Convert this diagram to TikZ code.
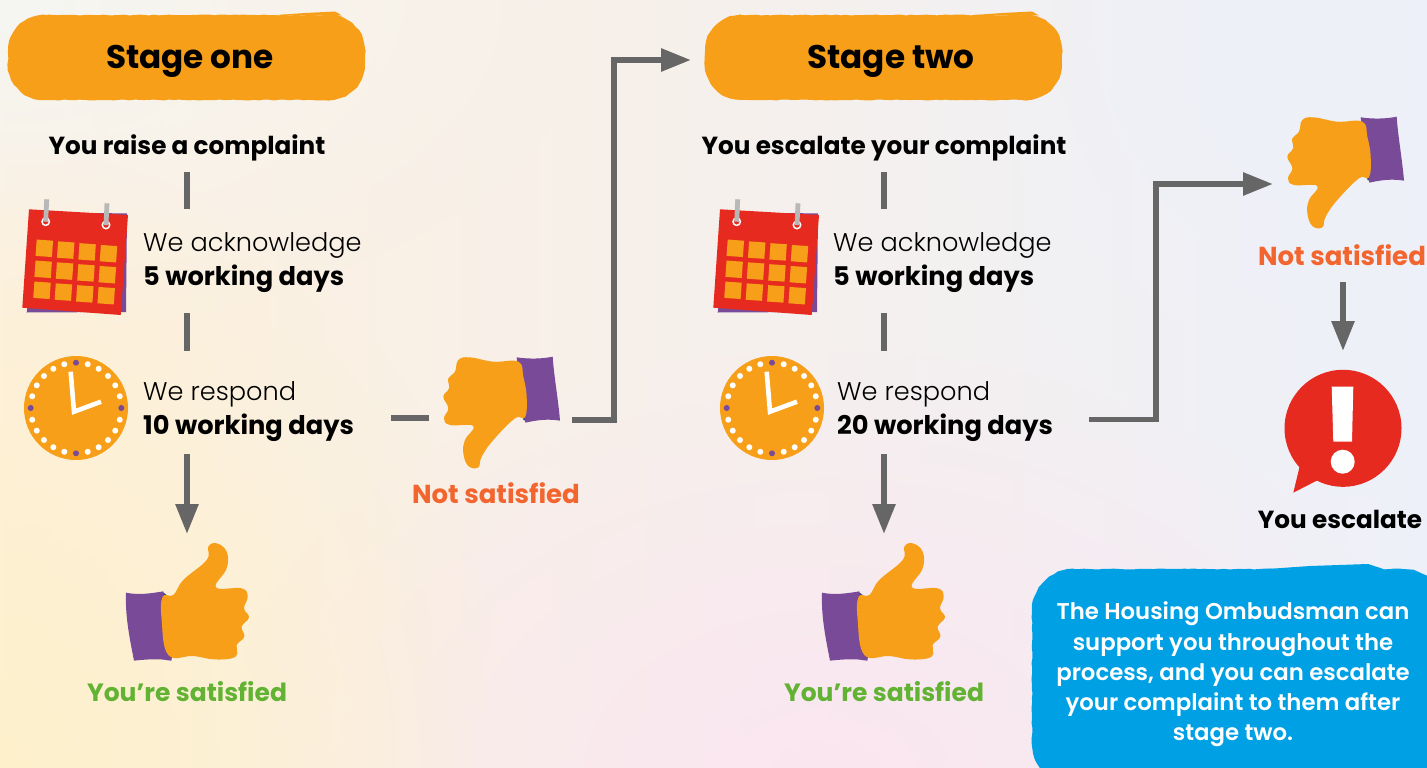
\documentclass[tikz,border=0pt]{standalone}
\usepackage{fontspec}
\setmainfont{Poppins}[UprightFont=* Regular,BoldFont=* Bold]
\newfontfamily\plight{Poppins}[UprightFont=* Light]
\newfontfamily\psemi{Poppins}[UprightFont=* SemiBold]
\usetikzlibrary{arrows.meta,decorations.pathmorphing,fadings,calc}
\tikzfading[name=softout,inner color=transparent!0,outer color=transparent!100]
\definecolor{orangeb}{HTML}{F79F18}
\definecolor{purp}{HTML}{784A98}
\definecolor{navyb}{HTML}{2F3C8C}
\definecolor{redb}{HTML}{E62A20}
\definecolor{conn}{HTML}{666666}
\definecolor{notsat}{HTML}{F2652E}
\definecolor{sat}{HTML}{62B233}
\definecolor{blueb}{HTML}{00A0E4}
\definecolor{bga}{HTML}{FEF1CB}
\definecolor{bgb}{HTML}{FDF0F2}
\definecolor{bgc}{HTML}{EEF0F9}
\definecolor{bgd}{HTML}{F5F6F3}
\definecolor{bge}{HTML}{FBE6F0}
\tikzset{
  link/.style={draw=conn,line width=5.8pt,line join=miter},
  arrowlink/.style={link,-{Triangle[length=30pt,width=22pt]}},
  stagelabel/.style={font=\fontsize{32.7}{36}\selectfont\bfseries,text=black,anchor=base},
  headlabel/.style={font=\fontsize{24.7}{30}\selectfont\bfseries,text=black,anchor=base},
  lightlabel/.style={font=\fontsize{25.6}{30}\selectfont\plight,text=black,anchor=base west,inner sep=0pt},
  boldlabel/.style={font=\fontsize{25.7}{30}\selectfont\bfseries,text=black,anchor=base west,inner sep=0pt},
  notlabel/.style={font=\fontsize{26}{30}\selectfont\bfseries,text=notsat,anchor=base},
  satlabel/.style={font=\fontsize{25}{30}\selectfont\bfseries,text=sat,anchor=base},
  noteblock/.style={font=\fontsize{22.8}{30.3}\selectfont\psemi,text=white,align=center,anchor=center},
  rough/.style={decorate,decoration={random steps,segment length=5pt,amplitude=0.5pt}},
}
\newcommand{\roughbox}[6]{%
  \fill[#6,rough] ({#1+#5},#2) -- ({#3-#5},#2)
    .. controls ({#3-0.45*#5},#2) and (#3,{#2+0.45*#5}) .. (#3,{#2+#5})
    -- (#3,{#4-#5})
    .. controls (#3,{#4-0.45*#5}) and ({#3-0.45*#5},#4) .. ({#3-#5},#4)
    -- ({#1+#5},#4)
    .. controls ({#1+0.45*#5},#4) and (#1,{#4-0.45*#5}) .. (#1,{#4-#5})
    -- (#1,{#2+#5})
    .. controls (#1,{#2+0.45*#5}) and ({#1+0.45*#5},#2) .. ({#1+#5},#2) -- cycle;}
\newcommand{\calicon}[1]{%
  \begin{scope}[shift={(#1,0)}]
    \fill[purp] (40,213) -- (127,213.3) -- (126,312) -- (26.7,312.5) -- cycle;
    \fill[redb] (29,209.3) -- (128,215) -- (120.7,315) -- (22.3,307.7) -- cycle;
    \foreach \r in {0,1,2}{\foreach \c in {0,1,2,3}{
      \pgfmathsetmacro{\cx}{44.3+21.4*\c-1.15*\r}
      \pgfmathsetmacro{\cy}{248.3+21*\r+1.8*\c}
      \fill[orangeb] (\cx-7.6,\cy-8.75) -- (\cx+8.75,\cy-7.6) -- (\cx+7.6,\cy+8.75) -- (\cx-8.75,\cy+7.6) -- cycle;
    }}
    \draw[white,line width=1.5pt,fill=redb] (45.7,221.7) circle (3.7);
    \draw[white,line width=1.5pt,fill=redb] (106,225) circle (3.7);
    \draw[black!28,line width=4.8pt] (46.7,199.3) -- (45.7,221.7);
    \draw[black!28,line width=4.8pt] (107,203.3) -- (106,225);
  \end{scope}}
\newcommand{\clockicon}[1]{%
  \begin{scope}[shift={(#1,0)}]
    \fill[orangeb] (76,408) circle (52);
    \foreach \a in {15,30,45,60,75,105,120,135,150,165,195,210,225,240,255,285,300,315,330,345}
      \fill[white] ({76+45.3*cos(\a)},{408+45.3*sin(\a)}) circle (3);
    \foreach \a in {0,90,180,270}
      \fill[purp] ({76+45.3*cos(\a)},{408+45.3*sin(\a)}) circle (3);
    \draw[white,line width=4.6pt,line join=miter] (70.7,371.7) -- (74,411.7) -- (101,401.7);
  \end{scope}}
\newcommand{\thumbdown}[2]{%
  \begin{scope}[shift={(#1,#2)},scale=1/3]
    \fill[navyb] (412,55) -- (430,55) -- (450,245) -- (430,240) -- cycle;
    \fill[purp] (410,52) .. controls (450,58) and (490,56) .. (518,50)
      .. controls (522,110) and (535,180) .. (540,242)
      .. controls (505,236) and (470,240) .. (436,248) -- (420,150) -- cycle;
    \fill[orangeb] plot[smooth cycle,tension=0.7] coordinates {
      (415,65) (340,65) (270,52) (235,60) (225,95) (205,115) (207,145) (190,170)
      (205,205) (192,235) (210,255) (280,258) (255,300) (250,340) (265,378)
      (295,382) (305,350) (340,300) (405,235) (435,232) (440,170) (430,110)};
  \end{scope}}
\newcommand{\thumbup}[1]{%
  \begin{scope}[shift={(#1,530)},scale=1/3]
    \fill[navyb] (188,186) -- (200,195) -- (216,378) -- (214,390) -- (200,390) -- cycle;
    \fill[purp] (78,188) .. controls (115,196) and (155,190) .. (190,184)
      -- (200,280) -- (214,392)
      .. controls (175,385) and (140,388) .. (102,392)
      .. controls (90,330) and (75,260) .. (78,188) -- cycle;
    \fill[orangeb] plot[smooth cycle,tension=0.7] coordinates {
      (188,200) (220,195) (250,150) (320,90) (325,50) (350,40) (380,65) (380,115)
      (348,172) (425,175) (443,200) (432,235) (447,262) (425,290) (433,320)
      (410,345) (412,370) (395,385) (340,388) (280,378) (205,375) (185,270)};
  \end{scope}}
\begin{document}
\begin{tikzpicture}[x=1pt,y=-1pt]
\pgfmathsetseed{4242}
\useasboundingbox (0,0) rectangle (1427,768);
\begin{scope}
\clip (0,0) rectangle (1427,768);
\shade[left color=bgb!50!bga,middle color=bgb,right color=bgc] (0,0) rectangle (1427,768);
\fill[bgd,path fading=softout] (0,0) ellipse (600 and 330);
\fill[bgc,path fading=softout] (1427,0) ellipse (500 and 500);
\fill[bge,path fading=softout] (830,780) ellipse (620 and 430);
\fill[bga,path fading=softout] (0,768) ellipse (520 and 620);
\roughbox{8}{15}{365}{100}{36}{orangeb}
\roughbox{705}{15}{1062}{100}{36}{orangeb}
\fill[orangeb] (270,15.5) -- (305,13) -- (335,11.5) -- (342,15.5) -- cycle;
\fill[orangeb] (967,15.5) -- (1002,13) -- (1032,11.5) -- (1039,15.5) -- cycle;
\roughbox{1032}{569}{1445}{785}{42}{blueb}
\fill[blueb] (1260,569.5) -- (1310,566) -- (1368,564) -- (1385,569.5) -- cycle;
\end{scope}

\node[stagelabel] (stageone) at (190,69) {Stage one};
\node[stagelabel] (stagetwo) at (891,69) {Stage two};
\node[headlabel] (raise) at (187,154) {You raise a complaint};
\node[headlabel] (escalatec) at (884,154) {You escalate your complaint};

\calicon{0}
\calicon{691}
\clockicon{0}
\clockicon{696}

\node[lightlabel] (ack1) at (143,251.7) {We acknowledge};
\node[boldlabel] (days1) at (143,285) {5 working days};
\node[lightlabel] (resp1) at (143,400) {We respond};
\node[boldlabel] (wd1) at (143,434.3) {10 working days};
\node[lightlabel] (ack2) at (833,251.7) {We acknowledge};
\node[boldlabel] (days2) at (833,285) {5 working days};
\node[lightlabel] (resp2) at (837,400) {We respond};
\node[boldlabel] (wd2) at (837,434.3) {20 working days};

\thumbdown{380}{340}
\thumbdown{1224}{100}
\thumbup{100}
\thumbup{796}

\node[notlabel] (not1) at (496,503) {Not satisfied};
\node[notlabel] (not2) at (1342,265) {Not satisfied};
\node[satlabel] (sat1) at (187,701.5) {You’re satisfied};
\node[satlabel] (sat2) at (884,701.5) {You’re satisfied};

% exclamation bubble
\fill[redb] (1343,428.3) circle (58.5);
\fill[redb] (1300,465) -- (1293.3,492.7) -- (1318,480) -- cycle;
\fill[white] (1331.7,386.7) -- (1353.3,386.7) -- (1352,441.7) -- (1333.3,441.7) -- cycle;
\fill[white] (1342.7,461.7) circle (12);
\node[headlabel] (youesc) at (1340,528.3) {You escalate};

\node[noteblock] (note) at (1233,674.5) {The Housing Ombudsman can\\support you throughout the\\process, and you can escalate\\your complaint to them after\\stage two.};

% connector end points
\coordinate (a1) at (187,172); \coordinate (a2) at (187,209);
\coordinate (a3) at (187,313); \coordinate (a4) at (187,351);
\coordinate (a5) at (187,454); \coordinate (a6) at (187,534);
\coordinate (b1) at (884,172); \coordinate (b2) at (884,209);
\coordinate (b3) at (884,313); \coordinate (b4) at (884,351);
\coordinate (b5) at (884,454); \coordinate (b6) at (884,534);
\coordinate (c1) at (391,418.3); \coordinate (c2) at (429,418.3);
\coordinate (d1) at (572,420); \coordinate (d2) at (614,420);
\coordinate (d3) at (614,60); \coordinate (d4) at (691,60);
\coordinate (e1) at (1089,419.5); \coordinate (e2) at (1156,419.5);
\coordinate (e3) at (1156,184); \coordinate (e4) at (1273,184);
\coordinate (f1) at (1343,282); \coordinate (f2) at (1343,351);

\draw[link] (a1) -- (a2);
\draw[link] (a3) -- (a4);
\draw[arrowlink] (a5) -- (a6);
\draw[link] (b1) -- (b2);
\draw[link] (b3) -- (b4);
\draw[arrowlink] (b5) -- (b6);
\draw[link] (c1) -- (c2);
\draw[arrowlink] (d1) -- (d2) -- (d3) -- (d4);
\draw[arrowlink] (e1) -- (e2) -- (e3) -- (e4);
\draw[arrowlink] (f1) -- (f2);
\end{tikzpicture}
\end{document}
